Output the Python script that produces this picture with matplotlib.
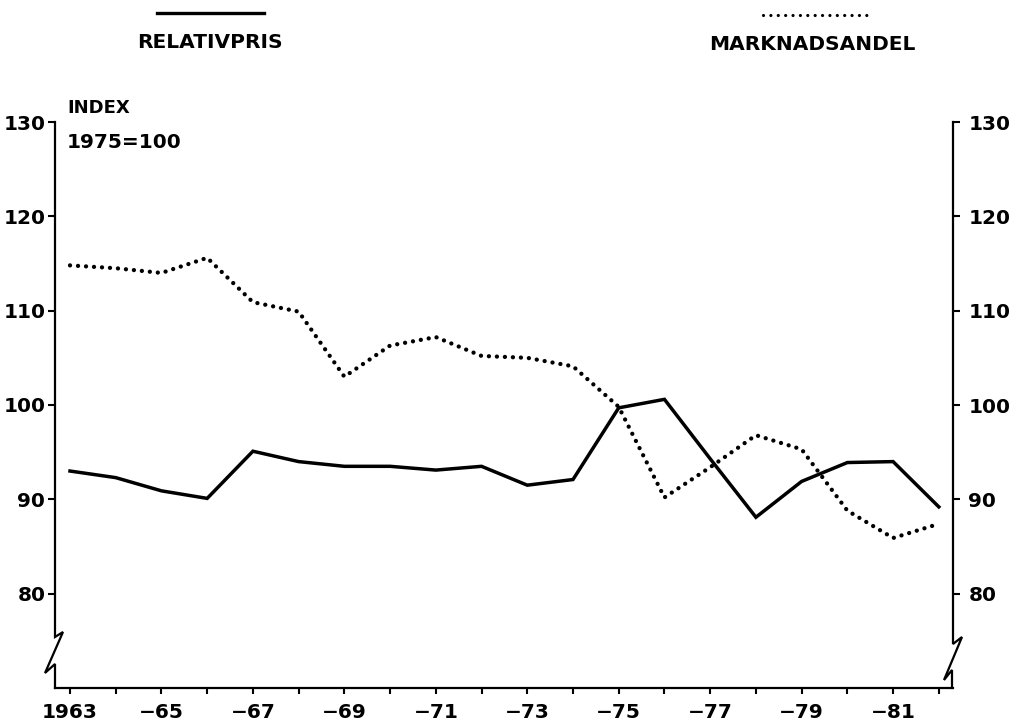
import matplotlib
matplotlib.use("Agg")
import matplotlib.pyplot as plt
from matplotlib.lines import Line2D

# ---- data ----
years = list(range(1963, 1983))
relativpris = [93.0, 92.3, 90.9, 90.1, 95.1, 94.0, 93.5, 93.5, 93.1, 93.5,
               91.5, 92.1, 99.7, 100.6, 94.3, 88.1, 91.9, 93.9, 94.0, 89.2]
marknadsandel = [114.8, 114.5, 114.0, 115.6, 110.9, 109.9, 103.0, 106.3, 107.2, 105.2,
                 105.0, 104.1, 99.8, 90.2, 93.4, 96.8, 95.3, 88.8, 85.9, 87.4]
y_ticks = [80, 90, 100, 110, 120, 130]
x_labels = ["1963", "", "\u221265", "", "\u221267", "", "\u221269", "", "\u221271", "",
            "\u221273", "", "\u221275", "", "\u221277", "", "\u221279", "", "\u221281", ""]
legend_labels = ["RELATIVPRIS", "MARKNADSANDEL"]
axis_note = ["INDEX", "1975=100"]

plt.rcParams['font.family'] = ['DejaVu Sans']
W, H = 1025, 725
fig = plt.figure(figsize=(W / 100, H / 100), dpi=100)
L, R, T, B = 55, 953, 122, 688
ax = fig.add_axes([L / W, 1 - B / H, (R - L) / W, (B - T) / H])
axw, axh = R - L, B - T

ax.plot(years, relativpris, color='black', lw=2.5, solid_joinstyle='miter', zorder=3)
ax.plot(years, marknadsandel, color='black', lw=3.1, linestyle=(0, (0.01, 1.85)),
        dash_capstyle='round', zorder=3)

ax.set_xlim(1962.672, 1982.31)
ax.set_ylim(70, 130)
ax.set_xticks(years)
ax.set_xticklabels(x_labels, fontweight='bold')
ax.set_yticks(y_ticks)
ax.set_yticklabels([str(v) for v in y_ticks], fontweight='bold')
ax.tick_params(axis='x', direction='out', length=4, width=1.5, pad=7, labelsize=14.5)
ax.tick_params(axis='y', direction='out', length=5, width=1.5, pad=2, labelsize=14.5)

ax2 = ax.twinx()
ax2.set_ylim(70, 130)
ax2.set_yticks(y_ticks)
ax2.set_yticklabels([str(v) for v in y_ticks], fontweight='bold')
ax2.tick_params(axis='y', direction='out', length=5, width=1.5, pad=6, labelsize=14.5)

for a in (ax, ax2):
    for s in ['top', 'left', 'right']:
        a.spines[s].set_visible(False)
ax2.spines['bottom'].set_visible(False)
ax.spines['bottom'].set_linewidth(1.6)

def px(pts, x0):
    return ([(x0 + dx) / axw for dx, dy in pts], [dy / axh for dx, dy in pts])

left_break = [(0, axh), (0, 51), (8, 56), (-10, 15), (0, 24), (0, 0)]
right_break = [(0, axh), (0, 44), (9, 51), (-9, 8), (-1, 18), (-1, 0)]
for pts, x0 in [(left_break, 0), (right_break, axw)]:
    xs, ys = px(pts, x0)
    ax.add_line(Line2D(xs, ys, transform=ax.transAxes, color='black', lw=1.6,
                       clip_on=False, solid_joinstyle='miter'))

# legend
fig.add_artist(Line2D([157 / W, 264 / W], [1 - 13 / H, 1 - 13 / H], transform=fig.transFigure,
                      color='black', lw=2.4))
fig.add_artist(Line2D([763 / W, 867 / W], [1 - 15 / H, 1 - 15 / H], transform=fig.transFigure,
                      color='black', lw=2.3, linestyle=(0, (0.01, 2.3)), dash_capstyle='round'))
fig.text(210 / W, 1 - 43 / H, legend_labels[0], ha='center', va='center', fontsize=14.5,
         fontweight='bold')
fig.text(812 / W, 1 - 45 / H, legend_labels[1], ha='center', va='center', fontsize=14.5,
         fontweight='bold')

fig.text(67 / W, 1 - 108 / H, axis_note[0], ha='left', va='center', fontsize=13,
         fontweight='bold')
fig.text(67 / W, 1 - 142 / H, axis_note[1], ha='left', va='center', fontsize=14.5,
         fontweight='bold')

fig.savefig("out.png", dpi=100, facecolor='white')
